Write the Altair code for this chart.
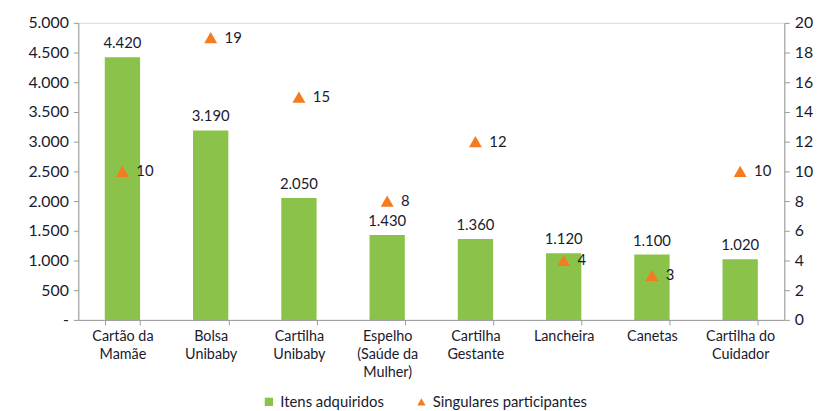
import altair as alt
import pandas as pd

categorias = ["Cartão da|Mamãe", "Bolsa|Unibaby", "Cartilha|Unibaby", "Espelho|(Saúde da|Mulher)",
              "Cartilha|Gestante", "Lancheira", "Canetas", "Cartilha do|Cuidador"]
itens = [4420, 3190, 2050, 1430, 1360, 1120, 1100, 1020]
singulares = [10, 19, 15, 8, 12, 4, 3, 10]
series = ["Itens adquiridos", "Singulares participantes"]
left_ticks = [0, 500, 1000, 1500, 2000, 2500, 3000, 3500, 4000, 4500, 5000]
right_ticks = [0, 2, 4, 6, 8, 10, 12, 14, 16, 18, 20]

df = pd.DataFrame({"cat": categorias, "itens": itens, "sing": singulares})
df["s2"] = series[1]

FONT = "Lato"
TXT = "#1a1a2e"
GREEN = "#8BC34A"
ORANGE = "#F47B20"

x = alt.X("cat:N", sort=categorias, title=None,
          scale=alt.Scale(paddingInner=0.6, paddingOuter=0.3),
          axis=alt.Axis(labelAngle=0, labelExpr="split(datum.label, '|')", tickBand="extent",
                        labelFont=FONT, labelFontSize=14.5, labelColor=TXT, labelLineHeight=18,
                        domainColor="#999999", tickColor="#999999", tickSize=5, labelPadding=5,
                        labelBaseline="top"))

y_left = alt.Y("itens:Q", title=None, scale=alt.Scale(domain=[0, 5000]),
               axis=alt.Axis(values=left_ticks, grid=False, labelOverlap=False,
                             labelExpr="datum.value == 0 ? '-' : replace(format(datum.value, ','), ',', '.')",
                             labelFont=FONT, labelFontSize=16, labelColor=TXT,
                             domainColor="#999999", tickColor="#999999", tickSize=5, labelPadding=5))

y_right = alt.Y("sing:Q", title=None, scale=alt.Scale(domain=[0, 20]),
                axis=alt.Axis(values=right_ticks, grid=False, orient="right", labelOverlap=False,
                              labelFont=FONT, labelFontSize=16, labelColor=TXT,
                              domainColor="#999999", tickColor="#999999", tickSize=5, labelPadding=5))

bars = alt.Chart(df).mark_bar(color=GREEN).encode(x=x, y=y_left)

bar_text = alt.Chart(df).transform_calculate(
    lbl="replace(format(datum.itens, ','), ',', '.')"
).mark_text(font=FONT, fontSize=15, color=TXT, baseline="bottom", dy=-6).encode(
    x=x, y=y_left, text="lbl:N",
)

left = alt.layer(bars, bar_text)

pts = alt.Chart(df).mark_point(filled=True, size=170, opacity=1).encode(
    x=x,
    y=y_right,
    color=alt.Color("s2:N", scale=alt.Scale(domain=series, range=[GREEN, ORANGE]), title=None,
                    legend=alt.Legend(orient="none", legendX=185, legendY=375, direction="horizontal",
                                      labelFont=FONT, labelFontSize=15, labelColor=TXT,
                                      symbolSize=70, columnPadding=30, symbolStrokeWidth=0)),
    shape=alt.Shape("s2:N", scale=alt.Scale(domain=series, range=["square", "triangle-up"]), title=None),
)

pt_text = alt.Chart(df).mark_text(font=FONT, fontSize=15, color=TXT, align="left", dx=14).encode(
    x=x, y=y_right, text="sing:Q",
)

right = alt.layer(pts, pt_text)

chart = alt.layer(left, right).resolve_scale(y="independent").properties(
    width=713, height=300,
    autosize=alt.AutoSizeParams(type="none"),
    padding={"left": 71, "top": 13, "right": 31, "bottom": 90},
).configure_view(stroke=None).configure(background="white")

chart.save("out.html", embed_options={"renderer": "svg", "actions": False})
